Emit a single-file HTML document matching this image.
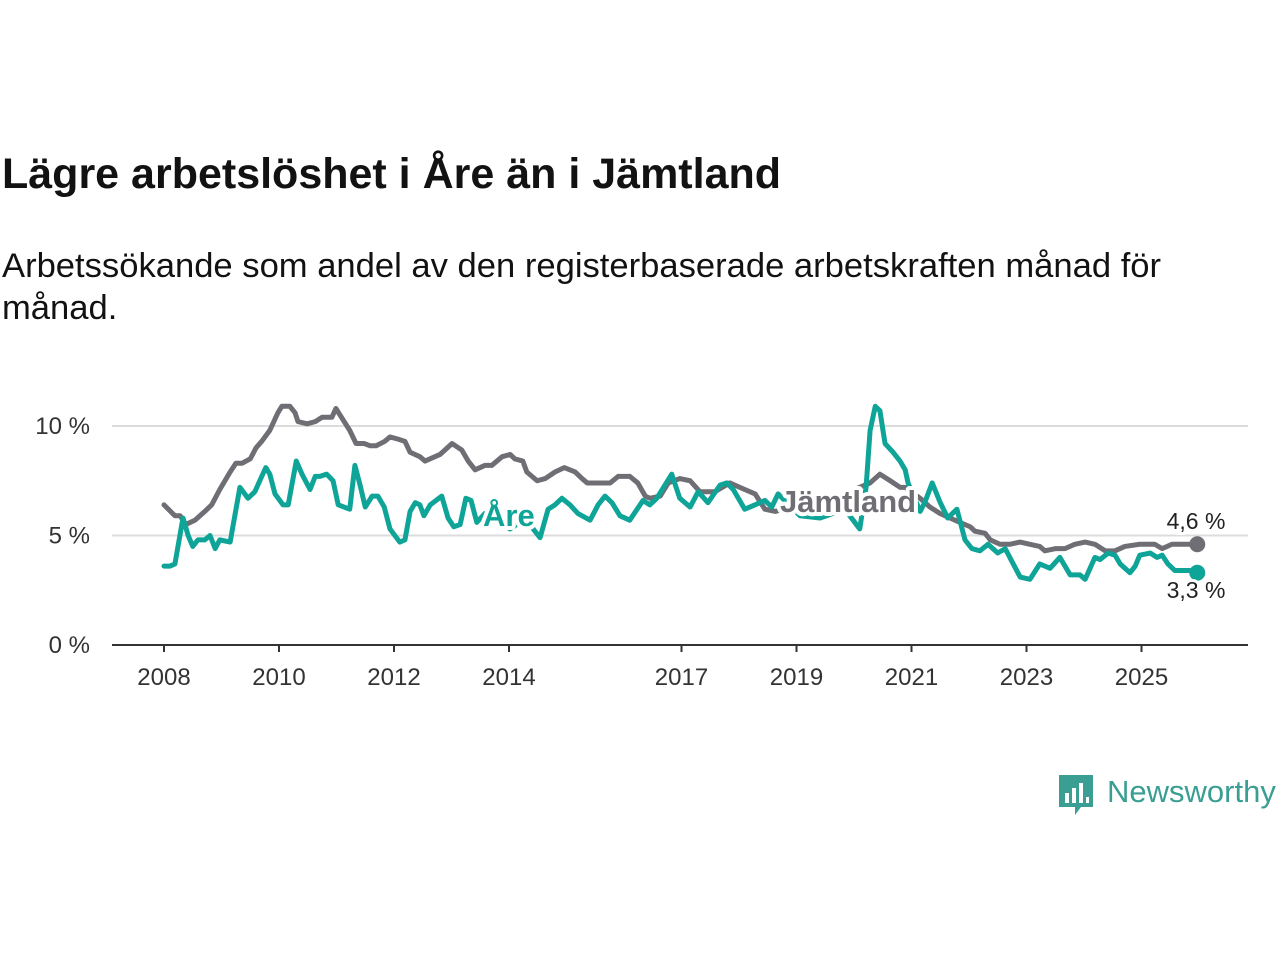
<!DOCTYPE html>
<html><head><meta charset="utf-8"><style>
body{margin:0;background:#fff;width:1280px;height:960px;overflow:hidden;font-family:"Liberation Sans","DejaVu Sans",sans-serif;}
#title{position:absolute;left:2px;top:150px;font-size:43px;font-weight:bold;color:#121212;margin:0;}
#sub{position:absolute;left:2px;top:245px;font-size:34.6px;color:#121212;line-height:42px;width:1220px;margin:0;}
svg{position:absolute;left:0;top:0;}
</style></head><body>
<h1 id="title">Lägre arbetslöshet i Åre än i Jämtland</h1>
<p id="sub">Arbetssökande som andel av den registerbaserade arbetskraften månad för månad.</p>
<svg id="chart" width="1280" height="960"></svg>
<script>
const yearTicks=[2008,2010,2012,2014,2017,2019,2021,2023,2025];
const yTicks=[0,5,10];
const jamDates=[2008.00,2008.19,2008.28,2008.38,2008.54,2008.71,2008.83,2008.97,2009.15,2009.25,2009.36,2009.50,2009.60,2009.70,2009.84,2009.98,2010.05,2010.19,2010.28,2010.33,2010.49,2010.63,2010.75,2010.92,2010.99,2011.11,2011.23,2011.34,2011.48,2011.58,2011.69,2011.84,2011.93,2012.07,2012.19,2012.28,2012.45,2012.54,2012.80,2013.01,2013.18,2013.29,2013.41,2013.58,2013.70,2013.88,2014.02,2014.10,2014.24,2014.31,2014.49,2014.63,2014.80,2014.96,2015.15,2015.27,2015.36,2015.76,2015.90,2016.10,2016.24,2016.37,2016.45,2016.63,2016.77,2016.97,2017.15,2017.32,2017.58,2017.84,2018.10,2018.28,2018.45,2018.63,2019.06,2019.58,2020.10,2020.28,2020.45,2020.63,2020.80,2020.89,2021.15,2021.32,2021.50,2021.67,2021.84,2022.02,2022.10,2022.28,2022.37,2022.54,2022.71,2022.89,2023.06,2023.23,2023.32,2023.50,2023.67,2023.84,2024.02,2024.19,2024.37,2024.54,2024.71,2024.97,2025.23,2025.36,2025.53,2025.84,2025.97];
const jamValues=[6.4,5.9,5.9,5.5,5.7,6.1,6.4,7.1,7.9,8.3,8.3,8.5,9.0,9.3,9.8,10.6,10.9,10.9,10.6,10.2,10.1,10.2,10.4,10.4,10.8,10.3,9.8,9.2,9.2,9.1,9.1,9.3,9.5,9.4,9.3,8.8,8.6,8.4,8.7,9.2,8.9,8.4,8.0,8.2,8.2,8.6,8.7,8.5,8.4,7.9,7.5,7.6,7.9,8.1,7.9,7.6,7.4,7.4,7.7,7.7,7.4,6.8,6.7,6.8,7.4,7.6,7.5,7.0,7.0,7.4,7.1,6.9,6.2,6.1,6.4,6.6,7.2,7.4,7.8,7.5,7.2,7.2,6.7,6.3,6.0,5.8,5.6,5.4,5.2,5.1,4.8,4.6,4.6,4.7,4.6,4.5,4.3,4.4,4.4,4.6,4.7,4.6,4.3,4.3,4.5,4.6,4.6,4.4,4.6,4.6,4.6];
const areDates=[2008.00,2008.10,2008.19,2008.33,2008.42,2008.50,2008.59,2008.71,2008.80,2008.89,2008.97,2009.15,2009.32,2009.46,2009.58,2009.70,2009.77,2009.84,2009.93,2010.07,2010.16,2010.30,2010.40,2010.54,2010.63,2010.71,2010.83,2010.94,2011.03,2011.23,2011.32,2011.41,2011.50,2011.62,2011.72,2011.83,2011.93,2012.10,2012.19,2012.28,2012.37,2012.45,2012.52,2012.63,2012.83,2012.94,2013.04,2013.15,2013.25,2013.34,2013.44,2013.58,2014.02,2014.19,2014.31,2014.42,2014.54,2014.68,2014.80,2014.92,2015.06,2015.20,2015.41,2015.55,2015.67,2015.79,2015.93,2016.10,2016.33,2016.45,2016.57,2016.83,2016.97,2017.15,2017.29,2017.46,2017.67,2017.79,2017.90,2018.10,2018.28,2018.45,2018.57,2018.68,2019.06,2019.41,2019.84,2020.10,2020.21,2020.28,2020.37,2020.45,2020.54,2020.68,2020.80,2020.89,2020.94,2021.15,2021.23,2021.36,2021.50,2021.63,2021.79,2021.93,2022.05,2022.19,2022.33,2022.50,2022.63,2022.75,2022.89,2023.06,2023.23,2023.41,2023.58,2023.76,2023.93,2024.02,2024.19,2024.28,2024.42,2024.54,2024.63,2024.80,2024.89,2024.97,2025.15,2025.27,2025.36,2025.46,2025.58,2025.84,2025.97];
const areValues=[3.6,3.6,3.7,5.8,5.0,4.5,4.8,4.8,5.0,4.4,4.8,4.7,7.2,6.7,7.0,7.7,8.1,7.8,6.9,6.4,6.4,8.4,7.8,7.1,7.7,7.7,7.8,7.5,6.4,6.2,8.2,7.3,6.3,6.8,6.8,6.3,5.3,4.7,4.8,6.1,6.5,6.4,5.9,6.4,6.8,5.8,5.4,5.5,6.7,6.6,5.6,6.0,5.3,5.6,6.2,5.3,4.9,6.2,6.4,6.7,6.4,6.0,5.7,6.4,6.8,6.5,5.9,5.7,6.6,6.4,6.7,7.8,6.7,6.3,7.0,6.5,7.3,7.4,7.1,6.2,6.4,6.6,6.3,6.9,5.9,5.8,6.2,5.3,7.2,9.8,10.9,10.7,9.2,8.8,8.4,8.0,7.4,6.1,6.5,7.4,6.5,5.8,6.2,4.8,4.4,4.3,4.6,4.2,4.4,3.8,3.1,3.0,3.7,3.5,4.0,3.2,3.2,3.0,4.0,3.9,4.2,4.1,3.7,3.3,3.6,4.1,4.2,4.0,4.1,3.7,3.4,3.4,3.3];
const NS='http://www.w3.org/2000/svg';
const svg=document.getElementById('chart');
const X0=112,X1=1248,Y0=645;
function xs(t){return 164+(t-2008)*57.5;}
function ys(v){return Y0-v*21.9;}
function mk(tag,attrs,parent){const e=document.createElementNS(NS,tag);for(const k in attrs)e.setAttribute(k,attrs[k]);(parent||svg).appendChild(e);return e;}
yTicks.forEach(v=>{
  if(v>0){const g=mk('line',{x1:X0,x2:X1,y1:ys(v),y2:ys(v),stroke:'#dcdcdc','stroke-width':2});
  
  }
  const t=mk('text',{x:90,y:ys(v)+8,'text-anchor':'end','font-size':24,fill:'#333'});
  t.textContent=v+' %';
  
  
});
const ax=mk('line',{x1:X0,x2:X1,y1:Y0,y2:Y0,stroke:'#333','stroke-width':2});


yearTicks.forEach(y=>{
  const tk=mk('line',{x1:xs(y),x2:xs(y),y1:Y0,y2:Y0+7,stroke:'#333','stroke-width':2});
  
  
  const t=mk('text',{x:xs(y),y:Y0+40,'text-anchor':'middle','font-size':24,fill:'#333'});
  t.textContent=y;
  
  
});
function line(d,v,c,name){
  const p=mk('polyline',{points:d.map((t,i)=>xs(t)+','+ys(v[i])).join(' '),fill:'none',stroke:c,'stroke-width':5,'stroke-linejoin':'round','stroke-linecap':'round'});
  
  
}
line(jamDates,jamValues,'#6f6e74','line-jamtland');
line(areDates,areValues,'#0ea497','line-are');
function lbl(x,y,txt,c,name){
  const t=mk('text',{x:x,y:y,'font-size':31,'font-weight':'bold',fill:c,stroke:'#fff','stroke-width':8,'paint-order':'stroke','stroke-linejoin':'round'});
  t.textContent=txt;
  
  
}
lbl(483,526,'Åre','#0ea497','label-are');
lbl(780,512,'Jämtland','#6f6e74','label-jamtland');
const lj=jamDates.length-1,la=areDates.length-1;
const d1=mk('circle',{cx:xs(jamDates[lj]),cy:ys(jamValues[lj]),r:8,fill:'#6f6e74'});


const d2=mk('circle',{cx:xs(areDates[la]),cy:ys(areValues[la]),r:8,fill:'#0ea497'});


function vl(x,y,txt,name){
  const t=mk('text',{x:x,y:y,'text-anchor':'middle','font-size':23,fill:'#222',stroke:'#fff','stroke-width':6,'paint-order':'stroke'});
  t.textContent=txt;
  
  
}
vl(1196,529,String(jamValues[lj]).replace('.',',')+' %','end-value-jamtland');
vl(1196,598,String(areValues[la]).replace('.',',')+' %','end-value-are');
</script>
<div style="position:absolute;left:1059px;top:775px;display:flex;align-items:center;">
<svg width="36" height="42" style="position:static"><path d="M0 0H34V32H22L16 40L16 32H0Z" fill="#3a9e92"/><rect x="6" y="18" width="4" height="10" fill="#fff"/><rect x="13" y="13" width="4" height="15" fill="#fff"/><rect x="20" y="8" width="4" height="20" fill="#fff"/><rect x="27" y="22" width="3" height="6" fill="#fff"/></svg>
<span style="font-size:31px;color:#3a9e92;margin-left:12px;margin-top:-8px">Newsworthy</span></div>
</body></html>
